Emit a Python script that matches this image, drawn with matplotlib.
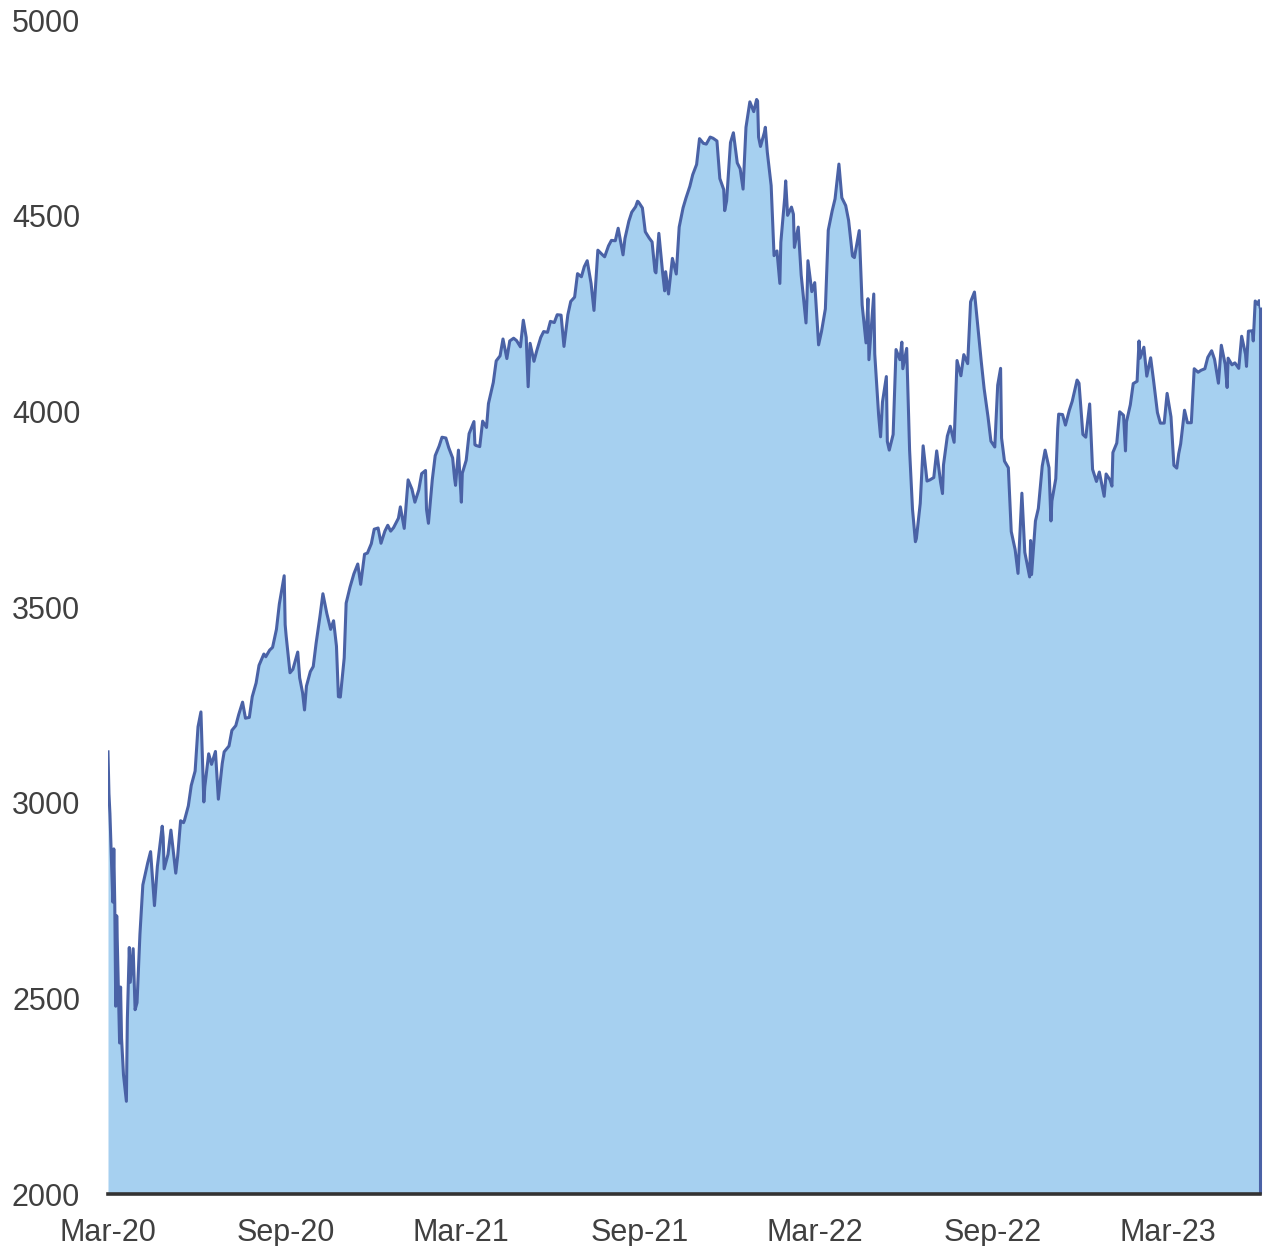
import numpy as np
import pandas as pd
import matplotlib
matplotlib.use("Agg")
import matplotlib.pyplot as plt
import matplotlib.dates as mdates

# Index level (selected trading days, MM-DD per year)
days_2020 = [
    "03-04", "03-05", "03-06", "03-09", "03-10", "03-11", "03-12", "03-13", "03-16", "03-17",
    "03-18", "03-20", "03-23", "03-24", "03-26", "03-27", "03-30", "04-01", "04-03", "04-06",
    "04-08", "04-09", "04-14", "04-17", "04-21", "04-24", "04-29", "04-30", "05-01", "05-05",
    "05-08", "05-13", "05-15", "05-18", "05-21", "05-22", "05-26", "05-29", "06-02", "06-05",
    "06-08", "06-11", "06-12", "06-16", "06-19", "06-23", "06-26", "06-30", "07-02", "07-07",
    "07-10", "07-14", "07-17", "07-21", "07-24", "07-28", "07-31", "08-04", "08-07", "08-12",
    "08-14", "08-18", "08-21", "08-25", "08-28", "09-02", "09-03", "09-04", "09-08", "09-11",
    "09-16", "09-18", "09-21", "09-23", "09-25", "09-29", "10-02", "10-05", "10-09", "10-12",
    "10-16", "10-20", "10-23", "10-26", "10-28", "10-30", "11-03", "11-05", "11-09", "11-13",
    "11-17", "11-20", "11-24", "11-27", "12-01", "12-04", "12-08", "12-11", "12-15", "12-18",
    "12-21", "12-24", "12-29", "12-31",
]
close_2020 = [
    3130, 3023, 2972, 2746, 2882, 2741, 2480, 2711, 2386, 2529,
    2398, 2305, 2237, 2447, 2630, 2541, 2627, 2471, 2489, 2664,
    2750, 2790, 2846, 2875, 2737, 2837, 2940, 2912, 2831, 2868,
    2930, 2820, 2864, 2954, 2949, 2955, 2992, 3044, 3081, 3194,
    3232, 3002, 3041, 3125, 3098, 3131, 3009, 3100, 3130, 3145,
    3185, 3197, 3225, 3257, 3216, 3218, 3271, 3306, 3351, 3380,
    3373, 3390, 3397, 3443, 3508, 3580, 3455, 3427, 3332, 3341,
    3385, 3319, 3281, 3237, 3298, 3335, 3348, 3408, 3477, 3534,
    3484, 3443, 3465, 3400, 3271, 3270, 3370, 3510, 3551, 3585,
    3610, 3558, 3635, 3638, 3662, 3699, 3702, 3663, 3694, 3709,
    3694, 3703, 3727, 3756,
]

days_2021 = [
    "01-04", "01-08", "01-12", "01-15", "01-19", "01-22", "01-26", "01-27", "01-29", "02-02",
    "02-05", "02-09", "02-12", "02-16", "02-19", "02-23", "02-25", "02-26", "03-01", "03-04",
    "03-05", "03-09", "03-12", "03-17", "03-18", "03-19", "03-23", "03-26", "03-30", "04-01",
    "04-06", "04-09", "04-13", "04-16", "04-20", "04-23", "04-27", "04-30", "05-04", "05-07",
    "05-10", "05-12", "05-14", "05-18", "05-21", "05-25", "05-28", "06-01", "06-04", "06-08",
    "06-11", "06-15", "06-18", "06-22", "06-25", "06-29", "07-02", "07-06", "07-09", "07-12",
    "07-16", "07-19", "07-23", "07-27", "07-30", "08-03", "08-06", "08-10", "08-13", "08-18",
    "08-20", "08-24", "08-27", "08-31", "09-02", "09-03", "09-07", "09-10", "09-14", "09-17",
    "09-20", "09-21", "09-24", "09-28", "09-30", "10-01", "10-04", "10-08", "10-12", "10-15",
    "10-19", "10-22", "10-26", "10-29", "11-02", "11-05", "11-09", "11-12", "11-16", "11-19",
    "11-23", "11-26", "11-30", "12-01", "12-03", "12-07", "12-10", "12-14", "12-17", "12-20",
    "12-23", "12-27", "12-31",
]
close_2021 = [
    3701, 3825, 3801, 3768, 3799, 3841, 3849, 3750, 3714, 3826,
    3887, 3911, 3934, 3932, 3907, 3881, 3829, 3811, 3901, 3768,
    3842, 3875, 3943, 3974, 3915, 3913, 3910, 3975, 3959, 4020,
    4074, 4129, 4142, 4185, 4135, 4180, 4187, 4181, 4165, 4233,
    4189, 4063, 4174, 4128, 4156, 4189, 4204, 4202, 4230, 4227,
    4247, 4246, 4166, 4247, 4281, 4292, 4352, 4344, 4370, 4385,
    4327, 4258, 4412, 4402, 4395, 4423, 4437, 4436, 4468, 4400,
    4442, 4486, 4509, 4523, 4537, 4535, 4520, 4459, 4443, 4433,
    4358, 4354, 4455, 4352, 4308, 4357, 4300, 4391, 4351, 4471,
    4520, 4545, 4575, 4605, 4631, 4697, 4685, 4683, 4701, 4698,
    4691, 4595, 4567, 4513, 4538, 4687, 4712, 4635, 4620, 4568,
    4726, 4791, 4766,
]

days_2022 = [
    "01-03", "01-04", "01-05", "01-07", "01-11", "01-12", "01-14", "01-18", "01-21", "01-24",
    "01-27", "01-28", "02-01", "02-02", "02-04", "02-08", "02-10", "02-11", "02-15", "02-18",
    "02-23", "02-24", "02-25", "03-01", "03-04", "03-08", "03-11", "03-15", "03-18", "03-22",
    "03-25", "03-29", "04-01", "04-05", "04-08", "04-12", "04-14", "04-19", "04-22", "04-26",
    "04-28", "04-29", "05-04", "05-05", "05-09", "05-11", "05-13", "05-17", "05-18", "05-20",
    "05-24", "05-27", "05-31", "06-02", "06-03", "06-07", "06-10", "06-13", "06-16", "06-17",
    "06-21", "06-24", "06-28", "07-01", "07-05", "07-08", "07-12", "07-14", "07-15", "07-19",
    "07-22", "07-26", "07-29", "08-02", "08-05", "08-09", "08-12", "08-16", "08-19", "08-23",
    "08-26", "08-30", "09-02", "09-06", "09-09", "09-12", "09-13", "09-16", "09-20", "09-23",
    "09-27", "09-30", "10-04", "10-07", "10-12", "10-13", "10-14", "10-18", "10-21", "10-25",
    "10-28", "11-01", "11-03", "11-04", "11-08", "11-10", "11-11", "11-15", "11-18", "11-22",
    "11-25", "11-30", "12-02", "12-06", "12-09", "12-13", "12-16", "12-20", "12-23", "12-28",
    "12-30",
]
close_2022 = [
    4797, 4793, 4701, 4677, 4713, 4726, 4663, 4577, 4398, 4410,
    4327, 4432, 4546, 4589, 4501, 4522, 4504, 4419, 4471, 4349,
    4226, 4288, 4385, 4306, 4329, 4170, 4204, 4262, 4463, 4512,
    4543, 4632, 4546, 4526, 4488, 4397, 4393, 4462, 4272, 4175,
    4288, 4132, 4300, 4147, 3991, 3935, 4024, 4089, 3923, 3901,
    3941, 4158, 4132, 4177, 4109, 4161, 3901, 3750, 3667, 3675,
    3765, 3912, 3822, 3825, 3831, 3899, 3819, 3790, 3863, 3937,
    3962, 3921, 4130, 4091, 4145, 4122, 4280, 4305, 4228, 4128,
    4058, 3986, 3924, 3909, 4067, 4110, 3932, 3873, 3856, 3693,
    3647, 3586, 3791, 3640, 3577, 3670, 3583, 3720, 3752, 3860,
    3901, 3856, 3720, 3771, 3828, 3956, 3993, 3992, 3965, 4003,
    4026, 4080, 4072, 3941, 3934, 4019, 3852, 3821, 3845, 3783,
    3840,
]

days_2023 = [
    "01-03", "01-05", "01-06", "01-10", "01-13", "01-17", "01-19", "01-20", "01-24", "01-27",
    "01-31", "02-02", "02-03", "02-07", "02-10", "02-14", "02-17", "02-21", "02-24", "02-28",
    "03-03", "03-07", "03-10", "03-13", "03-15", "03-17", "03-21", "03-24", "03-28", "03-31",
    "04-04", "04-07", "04-11", "04-14", "04-18", "04-21", "04-25", "04-28", "05-02", "05-04",
    "05-05", "05-09", "05-12", "05-16", "05-19", "05-23", "05-24", "05-26", "05-30", "05-31",
    "06-02", "06-05", "06-06", "06-07",
]
close_2023 = [
    3825, 3809, 3895, 3919, 3999, 3990, 3899, 3973, 4017, 4071,
    4077, 4180, 4136, 4164, 4090, 4137, 4079, 3997, 3970, 3970,
    4046, 3986, 3862, 3855, 3892, 3917, 4003, 3971, 3971, 4109,
    4100, 4105, 4109, 4138, 4155, 4133, 4072, 4169, 4120, 4061,
    4136, 4119, 4124, 4110, 4192, 4146, 4115, 4205, 4206, 4180,
    4282, 4273, 4283, 4267,
]

tick_dates = ["2020-03-04", "2020-09-04", "2021-03-04", "2021-09-04",
              "2022-03-04", "2022-09-04", "2023-03-04"]
y_ticks = [2000, 2500, 3000, 3500, 4000, 4500, 5000]

# Build one series
dates, values = [], []
for year, days, closes in [(2020, days_2020, close_2020), (2021, days_2021, close_2021),
                           (2022, days_2022, close_2022), (2023, days_2023, close_2023)]:
    assert len(days) == len(closes), year
    dates += [f"{year}-{d}" for d in days]
    values += closes
dates = pd.to_datetime(dates)
values = np.array(values, dtype=float)

fill_color = "#A6D0F0"
line_color = "#4A62A6"
text_color = "#404040"

fig = plt.figure(figsize=(12.66, 12.46), dpi=100)
ax = fig.add_axes([0.0853, 0.0417, 0.9100, 0.9422])

ax.fill_between(dates, values, 2000, color=fill_color, linewidth=0)
ax.plot(dates, values, color=line_color, linewidth=2.2, solid_joinstyle="round")
# closing edge of the area
ax.vlines(dates[-1], 2000, values[-1], color=line_color, linewidth=2.2, clip_on=False)

ax.set_xlim(dates[0], dates[-1])
ax.set_ylim(2000, 5000)
ax.set_yticks(y_ticks)
ax.set_xticks(pd.to_datetime(tick_dates))
ax.xaxis.set_major_formatter(mdates.DateFormatter("%b-%y"))

for side in ["top", "right", "left"]:
    ax.spines[side].set_visible(False)
ax.spines["bottom"].set_color("#333333")
ax.spines["bottom"].set_linewidth(2.6)
ax.spines["bottom"].set_zorder(5)

ax.tick_params(axis="both", length=0, labelsize=22, colors=text_color,
               labelfontfamily="Liberation Sans")
ax.tick_params(axis="y", pad=20)
ax.tick_params(axis="x", pad=17)
ax.set_facecolor("white")

fig.savefig("out.png", dpi=100)
